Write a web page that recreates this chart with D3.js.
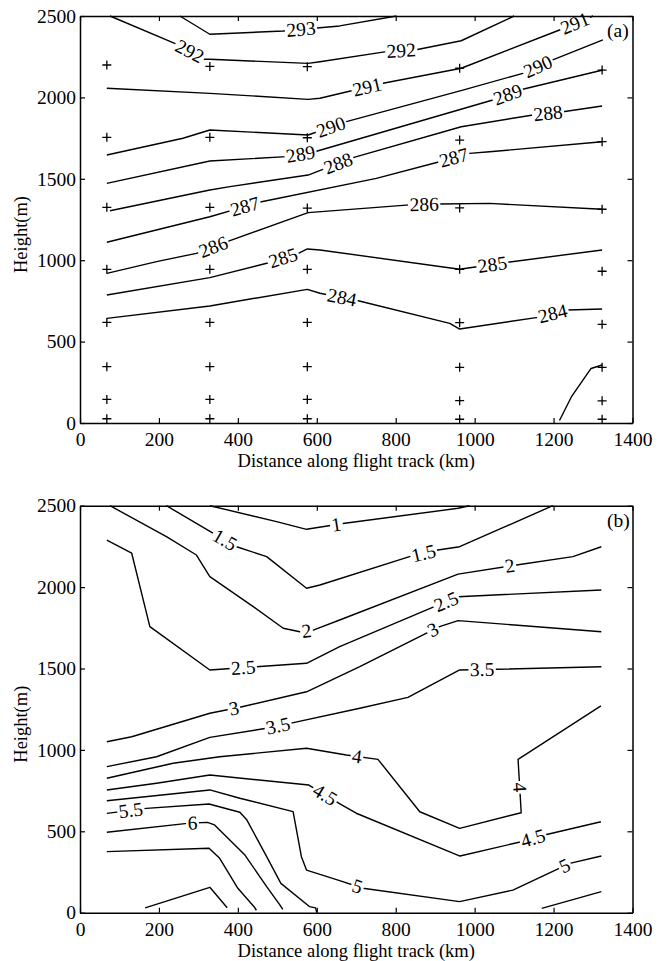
<!DOCTYPE html>
<html><head><meta charset="utf-8">
<script src="https://cdn.jsdelivr.net/npm/d3@7"></script>
<style>body{margin:0;background:#fff}</style>
</head><body>
<svg id="c" width="665" height="961"></svg>
<script>
// ---------- data ----------
const xTicks = [0,200,400,600,800,1000,1200,1400];
const yTicks = [0,500,1000,1500,2000,2500];
const xTitle = "Distance along flight track (km)";
const yTitle = "Height(m)";

// Panel (a): contour levels, polylines [km, m], label anchors [km, m]
const levelsA = ["293","292","291","290","289","288","287","286","285","284",""];
const pathsA = [
  [[253,2500],[329,2388],[515,2408],[658,2439],[802,2500]],
  [[76,2500],[240,2332],[316,2234],[329,2234],[578,2209],[608,2219],[776,2281],[852,2293],[966,2348],[1100,2500]],
  [[68,2056],[329,2025],[578,1988],[608,1995],[768,2087],[966,2179],[1215,2414],[1300,2500]],
  [[68,1646],[261,1749],[329,1800],[578,1769],[675,1851],[970,2045],[1122,2148],[1198,2230],[1325,2353]],
  [[68,1472],[329,1609],[523,1636],[595,1666],[1046,1984],[1122,2050],[1325,2168]],
  [[76,1304],[329,1431],[380,1452],[578,1523],[692,1630],[966,1820],[1148,1892],[1224,1912],[1323,1947]],
  [[68,1110],[329,1267],[460,1359],[751,1503],[911,1605],[987,1656],[1038,1666],[1323,1728]],
  [[68,919],[194,991],[295,1042],[380,1120],[578,1292],[835,1340],[911,1345],[1038,1349],[1323,1313]],
  [[68,786],[329,893],[473,981],[557,1046],[576,1069],[608,1063],[962,944],[1084,987],[1323,1063]],
  [[68,643],[329,719],[576,821],[608,797],[705,751],[937,612],[962,577],[1160,649],[1236,694],[1323,700]],
  [[1215,15],[1245,160],[1295,335],[1323,356]]
];
const labelsA = [
  [[560,2415]],
  [[278,2283],[814,2288]],
  [[729,2052],[1255,2452]],
  [[636,1818],[1160,2192]],
  [[559,1651],[1084,2017]],
  [[655,1590],[1186,1902]],
  [[418,1330],[947,1630]],
  [[338,1080],[872,1344]],
  [[515,1014],[1045,973]],
  [[664,775],[1198,672]],
  []
];
const soundingX = [68,329,576,962,1323];
const soundingHeights = [
  [26,145,346,618,944,1325,1755,2199],
  [26,145,346,618,944,1325,1755,2190],
  [26,145,346,618,944,1320,1752,2189],
  [23,137,342,616,944,1321,1738,2179],
  [23,136,342,606,932,1313,1728,2168]
];

// Panel (b)
const levelsB = ["1","1.5","2","2.5","3","3.5","4","4.5","5","5.5","6","","",""];
const pathsB = [
  [[329,2500],[498,2402],[574,2355],[671,2392],[958,2484],[987,2500]],
  [[219,2500],[338,2330],[397,2248],[473,2187],[574,1993],[608,2013],[835,2187],[907,2228],[962,2248],[1198,2500]],
  [[76,2500],[219,2310],[295,2197],[329,2064],[439,1880],[515,1747],[557,1726],[591,1736],[658,1798],[958,2080],[1106,2136],[1249,2187],[1321,2248]],
  [[68,2289],[131,2208],[177,1757],[329,1491],[447,1511],[574,1532],[658,1634],[958,1941],[1321,1982]],
  [[68,1050],[131,1081],[329,1225],[405,1262],[574,1357],[709,1511],[877,1716],[911,1757],[958,1794],[1321,1726]],
  [[68,897],[194,958],[329,1077],[473,1133],[532,1163],[709,1256],[831,1323],[962,1491],[1051,1495],[1321,1511]],
  [[68,826],[236,918],[354,958],[574,1010],[675,969],[755,942],[861,620],[962,518],[1118,614],[1110,942],[1320,1270]],
  [[68,754],[194,795],[329,846],[580,784],[663,662],[700,611],[963,348],[1118,436],[1177,477],[1320,559]],
  [[68,688],[329,754],[405,703],[540,621],[561,344],[574,262],[658,197],[717,150],[962,68],[1097,139],[1241,303],[1321,348]],
  [[68,610],[168,641],[327,668],[405,617],[423,569],[473,344],[509,180],[582,37],[597,30],[600,0]],
  [[68,494],[272,549],[323,555],[341,539],[418,354],[473,160],[505,53],[514,20]],
  [[68,375],[327,396],[354,334],[400,150],[441,37],[447,15]],
  [[165,30],[329,156],[373,30]],
  [[1170,27],[1321,129]]
];
const labelsB = [
  [[650,2380]],
  [[367,2290],[871,2207]],
  [[574,1728],[1089,2130]],
  [[414,1500],[928,1910]],
  [[390,1255],[895,1735]],
  [[502,1148],[1019,1493]],
  [[702,962],[1114,770]],
  [[620,722],[1148,456]],
  [[703,161],[1228,290]],
  [[129,628]],
  [[285,551]],
  [],[],[]
];

// ---------- drawing ----------
const svg = d3.select("#c");
const FONT = "'Liberation Serif','Times New Roman',serif";
const x = d3.scaleLinear().domain([0,1400]).range([80,632.5]);
const fmt = d3.format("d");

function nearestOnPath(pts, p){
  let best=null, bd=Infinity;
  for(let i=0;i<pts.length-1;i++){
    const a=pts[i], b=pts[i+1];
    const dx=b[0]-a[0], dy=b[1]-a[1];
    const L=dx*dx+dy*dy;
    let t = L? ((p[0]-a[0])*dx+(p[1]-a[1])*dy)/L : 0;
    t=Math.max(0,Math.min(1,t));
    const q=[a[0]+t*dx, a[1]+t*dy];
    const d=(q[0]-p[0])**2+(q[1]-p[1])**2;
    if(d<bd){bd=d; best={q, ang:Math.atan2(dy,dx)*180/Math.PI};}
  }
  let ang=best.ang;
  if(ang>90) ang-=180;
  if(ang<-90) ang+=180;
  if(Math.abs(Math.abs(ang)-90)<1) ang=90;
  best.ang=ang;
  return best;
}

function panel(top, bottom, levels, paths, labels, tag, withPlus){
  const y = d3.scaleLinear().domain([0,2500]).range([bottom, top]);
  const g = svg.append("g");
  const line = d3.line().x(d=>x(d[0])).y(d=>y(d[1]));

  g.selectAll("path.c").data(paths).enter().append("path")
    .attr("class","c").attr("d",line)
    .attr("fill","none").attr("stroke","#000").attr("stroke-width",1.4)
    .attr("stroke-linejoin","round");

  levels.forEach((lev,i)=>{
    if(!lev) return;
    const sp = paths[i].map(d=>[x(d[0]),y(d[1])]);
    labels[i].forEach(l=>{
      const r = nearestOnPath(sp,[x(l[0]),y(l[1])]);
      const lg = g.append("g")
        .attr("transform",`translate(${r.q[0]},${r.q[1]}) rotate(${r.ang})`);
      const rect = lg.append("rect").attr("fill","#fff");
      const t = lg.append("text")
        .attr("text-anchor","middle").attr("dy","0.33em")
        .attr("font-family",FONT).attr("font-size",19.5)
        .attr("fill","#000")
        .text(lev);
      const w = t.node().getComputedTextLength();
      rect.attr("x",-w/2-1.5).attr("y",-5).attr("width",w+3).attr("height",10);
    });
  });

  if(withPlus){
    const pts=[];
    soundingX.forEach((sx,i)=>soundingHeights[i].forEach(h=>pts.push([sx,h])));
    g.selectAll("path.p").data(pts).enter().append("path")
      .attr("d","M-4.5,0H4.5M0,-4.5V4.5")
      .attr("transform",d=>`translate(${x(d[0])},${y(d[1])})`)
      .attr("stroke","#000").attr("stroke-width",1.3).attr("fill","none");
  }

  // frame & ticks
  const ax = (a)=>a.selectAll("path.domain").attr("stroke-width",1.5);
  g.append("g").attr("transform",`translate(0,${bottom})`)
    .call(d3.axisBottom(x).tickValues(xTicks).tickFormat(fmt).tickSizeInner(-5).tickSizeOuter(0).tickPadding(9))
    .call(ax);
  g.append("g").attr("transform",`translate(0,${top})`)
    .call(d3.axisTop(x).tickValues(xTicks).tickSizeInner(-5).tickSizeOuter(0).tickFormat(""))
    .call(ax);
  g.append("g").attr("transform",`translate(${x(0)},0)`)
    .call(d3.axisLeft(y).tickValues(yTicks).tickFormat(fmt).tickSizeInner(-5).tickSizeOuter(0).tickPadding(4))
    .call(ax);
  g.append("g").attr("transform",`translate(${x(1400)},0)`)
    .call(d3.axisRight(y).tickValues(yTicks).tickSizeInner(-5).tickSizeOuter(0).tickFormat(""))
    .call(ax);
  g.selectAll(".tick line").attr("stroke-width",1.2);
  g.selectAll(".tick text").attr("font-family",FONT).attr("font-size",19.5).attr("fill","#000");

  g.append("text").attr("x",(x(0)+x(1400))/2).attr("y",bottom+44)
    .attr("text-anchor","middle").attr("font-family",FONT).attr("font-size",18.5)
    .text(xTitle);
  g.append("text").attr("transform",`translate(27,${(top+bottom)/2+15}) rotate(-90)`)
    .attr("text-anchor","middle").attr("font-family",FONT).attr("font-size",18.5)
    .text(yTitle);
  g.append("text").attr("x",607).attr("y",top+21)
    .attr("font-family",FONT).attr("font-size",19.5).text(tag);
}

panel(16, 423, levelsA, pathsA, labelsA, "(a)", true);
panel(505.7, 912.7, levelsB, pathsB, labelsB, "(b)", false);
</script>
</body></html>
